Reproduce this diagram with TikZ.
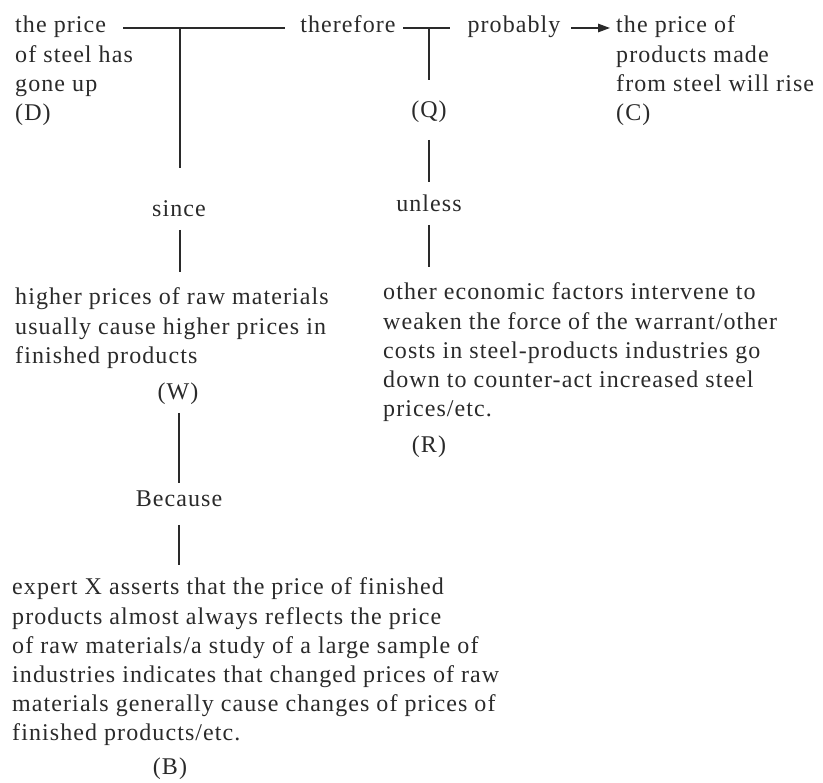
\documentclass[tikz,border=0pt]{standalone}
\usepackage{fontspec}
\setmainfont[LetterSpace=4.5]{Liberation Serif}
\usetikzlibrary{arrows.meta}
\definecolor{ink}{HTML}{2A2A2A}
% a block of left-aligned lines whose baseline is that of its first line
\newcommand{\lines}[1]{\begin{tabular}[t]{@{}l@{}}#1\end{tabular}}
\begin{document}
\begin{tikzpicture}[x=1pt,y=-1pt,
  txt/.style={inner sep=0pt,text=ink,font=\fontsize{24}{29.2}\selectfont},
  para/.style={txt,anchor=base west},
  word/.style={txt,anchor=base},
  link/.style={draw=ink,line width=1.4pt},
  arr/.style={link,-{Triangle[length=12pt,width=8.5pt]}}]
\useasboundingbox (0,0) rectangle (823,783);

% statements
\node[para] (D) at (15,33) {\lines{the price\\of steel has\\gone up\\(D)}};
\node[para] (C) at (616,33) {\lines{the price of\\products made\\from steel will rise\\(C)}};
\node[para] (W) at (15,305) {\lines{higher prices of raw materials\\usually cause higher prices in\\finished products}};
\node[word] (Wl) at (178,400) {(W)};
\node[para] (R) at (383,300) {\lines{other economic factors intervene to\\weaken the force of the warrant/other\\costs in steel-products industries go\\down to counter-act increased steel\\prices/etc.}};
\node[word] (Rl) at (429,453) {(R)};
\node[para] (B) at (12,595) {\lines{expert X asserts that the price of finished\\products almost always reflects the price\\of raw materials/a study of a large sample of\\industries indicates that changed prices of raw\\materials generally cause changes of prices of\\finished products/etc.}};
\node[word] (Bl) at (170,774) {(B)};

% link words
\node[word] (there) at (348,33) {therefore};
\node[word] (prob) at (514,33) {probably};
\node[word] (Q) at (429,118) {(Q)};
\node[word] (unl) at (429,212) {unless};
\node[word] (since) at (179,217) {since};
\node[word] (bec) at (179,507) {Because};

% connector end points
\coordinate (dA) at (123,28);
\coordinate (dB) at (285,28);
\coordinate (j1) at (180,28);
\coordinate (j1b) at (180,168);
\coordinate (tA) at (403,28);
\coordinate (tB) at (450,28);
\coordinate (j2) at (429,28);
\coordinate (j2b) at (429,80);
\coordinate (pA) at (571,28);
\coordinate (pB) at (610,28);
\coordinate (qA) at (429,140);
\coordinate (qB) at (429,182);
\coordinate (uA) at (429,225);
\coordinate (uB) at (429,267);
\coordinate (sA) at (180,230);
\coordinate (sB) at (180,272);
\coordinate (wA) at (179,413);
\coordinate (wB) at (179,483);
\coordinate (bA) at (179,525);
\coordinate (bB) at (179,565);

% connectors
\draw[link] (dA) -- (dB);
\draw[link] (j1) -- (j1b);
\draw[link] (tA) -- (tB);
\draw[link] (j2) -- (j2b);
\draw[arr] (pA) -- (pB);
\draw[link] (qA) -- (qB);
\draw[link] (uA) -- (uB);
\draw[link] (sA) -- (sB);
\draw[link] (wA) -- (wB);
\draw[link] (bA) -- (bB);
\end{tikzpicture}
\end{document}
